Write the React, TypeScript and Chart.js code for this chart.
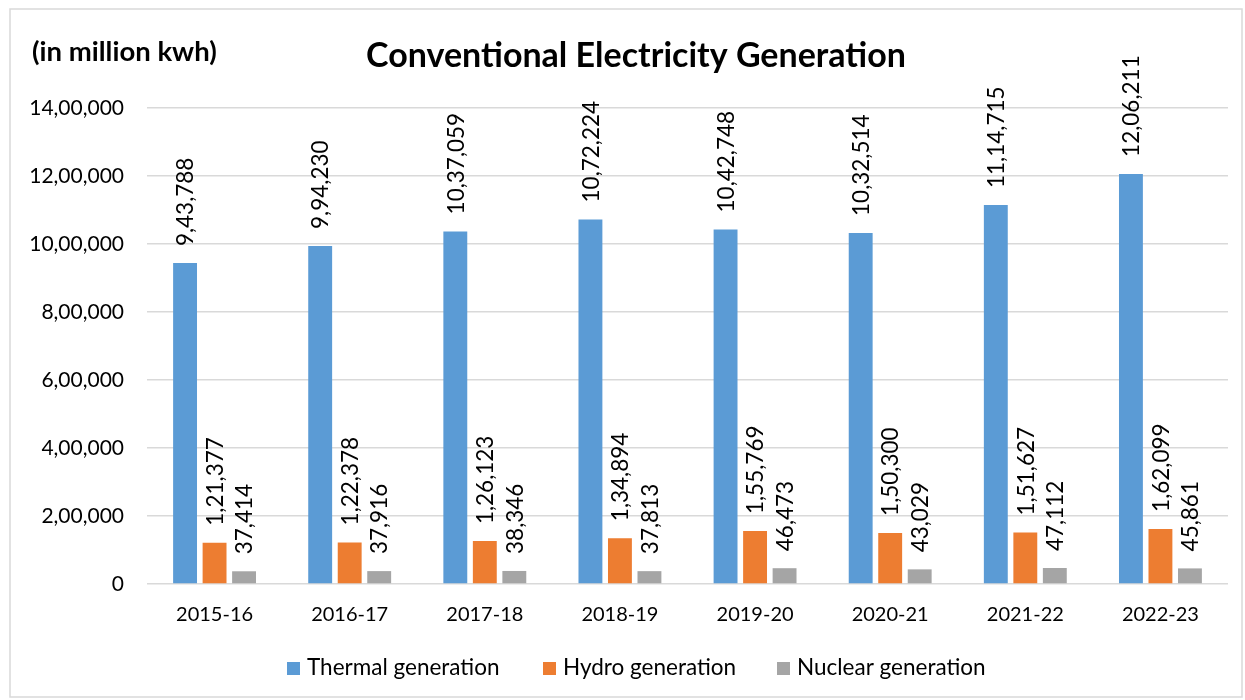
import React, { useEffect, useRef } from "react";
import { Chart, registerables } from "chart.js";

Chart.register(...registerables);

const categories = ["2015-16", "2016-17", "2017-18", "2018-19", "2019-20", "2020-21", "2021-22", "2022-23"];
const thermal = [943788, 994230, 1037059, 1072224, 1042748, 1032514, 1114715, 1206211];
const hydro = [121377, 122378, 126123, 134894, 155769, 150300, 151627, 162099];
const nuclear = [37414, 37916, 38346, 37813, 46473, 43029, 47112, 45861];
const seriesNames = ["Thermal generation", "Hydro generation", "Nuclear generation"];
const seriesColors = ["#5B9BD5", "#ED7D31", "#A5A5A5"];
const titleText = "Conventional Electricity Generation";
const unitText = "(in million kwh)";

const FONT = "Lato, 'Noto Sans', sans-serif";

function fmtIN(v: number): string {
  const s = Math.round(v).toString();
  if (s.length <= 3) return s;
  const last3 = s.slice(-3);
  let rest = s.slice(0, -3);
  const parts: string[] = [];
  while (rest.length > 2) {
    parts.unshift(rest.slice(-2));
    rest = rest.slice(0, -2);
  }
  if (rest.length) parts.unshift(rest);
  return parts.join(",") + "," + last3;
}

const decorPlugin = {
  id: "decor",
  afterDraw(chart: any) {
    const ctx = chart.ctx as CanvasRenderingContext2D;
    ctx.save();
    // outer border
    ctx.strokeStyle = "#d9d9d9";
    ctx.lineWidth = 1.5;
    ctx.strokeRect(10, 9, 1232, 688);
    // title
    ctx.fillStyle = "#000";
    ctx.textBaseline = "alphabetic";
    ctx.textAlign = "center";
    ctx.font = `bold 34px ${FONT}`;
    ctx.fillText(titleText, 636, 67);
    ctx.textAlign = "left";
    ctx.font = `bold 27.5px ${FONT}`;
    ctx.fillText(unitText, 32, 61);
    // data labels
    ctx.font = `22.5px ${FONT}`;
    chart.data.datasets.forEach((ds: any, di: number) => {
      const meta = chart.getDatasetMeta(di);
      meta.data.forEach((el: any, i: number) => {
        const v = ds.data[i];
        ctx.save();
        ctx.translate(el.x, el.y - 17);
        ctx.rotate(-Math.PI / 2);
        ctx.textAlign = "left";
        ctx.textBaseline = "middle";
        ctx.fillStyle = "#000";
        ctx.fillText(fmtIN(v), 0, 1);
        ctx.restore();
      });
    });
    // legend
    const boxX = [287, 543, 777];
    ctx.font = `22.5px ${FONT}`;
    ctx.textBaseline = "alphabetic";
    ctx.textAlign = "left";
    chart.data.datasets.forEach((ds: any, di: number) => {
      ctx.fillStyle = ds.backgroundColor;
      ctx.fillRect(boxX[di], 662, 13, 13);
      ctx.fillStyle = "#000";
      ctx.fillText(ds.label, boxX[di] + 20, 675);
    });
    ctx.restore();
  },
};

export default function App() {
  const ref = useRef<HTMLCanvasElement>(null);
  useEffect(() => {
    document.body.style.margin = "0";
    const chart = new Chart(ref.current!, {
      type: "bar",
      data: {
        labels: categories,
        datasets: [thermal, hydro, nuclear].map((d, i) => ({
          label: seriesNames[i],
          data: d,
          backgroundColor: seriesColors[i],
          categoryPercentage: 0.655,
          barPercentage: 0.81,
        })),
      },
      options: {
        animation: false,
        responsive: false,
        maintainAspectRatio: false,
        layout: { padding: { top: 108, right: 17, left: 0, bottom: 0 } },
        plugins: {
          legend: { display: false },
          title: { display: false },
          tooltip: { enabled: false },
        },
        scales: {
          x: {
            grid: { display: false, drawTicks: false },
            border: { display: false },
            ticks: { color: "#000", font: { family: FONT, size: 20 }, padding: 19, maxRotation: 0 },
            afterFit(scale: any) {
              scale.height = 116;
            },
          },
          y: {
            min: 0,
            max: 1400000,
            grid: { color: "#d9d9d9", lineWidth: 1.5, drawTicks: false },
            border: { display: false },
            ticks: {
              stepSize: 200000,
              color: "#000",
              font: { family: FONT, size: 21 },
              padding: 23,
              callback: (v: any) => fmtIN(Number(v)),
            },
            afterFit(scale: any) {
              scale.width = 147;
            },
          },
        },
      },
      plugins: [decorPlugin],
    });
    return () => chart.destroy();
  }, []);
  return (
    <div style={{ width: 1245, height: 700 }}>
      <canvas ref={ref} width={1245} height={700} style={{ display: "block" }} />
    </div>
  );
}
